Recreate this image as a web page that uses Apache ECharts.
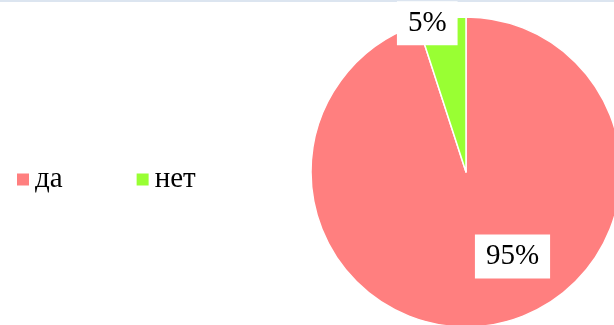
<!DOCTYPE html>
<html>
<head>
<meta charset="utf-8">
<script src="https://cdn.jsdelivr.net/npm/echarts@6/dist/echarts.min.js"></script>
<style>
html,body{margin:0;padding:0;background:#fff;}
#c{width:614px;height:325px;}
</style>
</head>
<body>
<div id="c"></div>
<script>
var categories = ['да', 'нет'];
var values = [95, 5];
var colors = ['#FF7F7F', '#99FF33'];

var chart = echarts.init(document.getElementById('c'));
var cx = 466, cy = 172, R = 155;
var serif = "'Liberation Serif', 'Times New Roman', serif";
// label anchor points as fractions of radius (dx, dy)
var labelAnchors = [[0.30, 0.545], [-0.25, -0.96]];

chart.setOption({
  animation: false,
  graphic: [{
    type: 'rect', z: -10, silent: true,
    shape: {x: 0, y: 0, width: 614, height: 2},
    style: {fill: '#dce5f0'}
  }],
  legend: {
    left: 12, top: 160,
    orient: 'horizontal',
    icon: 'rect',
    itemWidth: 12, itemHeight: 12,
    itemGap: 74,
    itemStyle: {borderWidth: 0},
    textStyle: {fontFamily: serif, fontSize: 29, color: '#000', padding: [0, 0, 0, 1]},
    data: categories
  },
  series: [{
    type: 'pie',
    center: [cx, cy],
    radius: R,
    startAngle: 90,
    clockwise: true,
    z: 5,
    itemStyle: {borderColor: '#fff', borderWidth: 1.5},
    label: {
      show: true,
      position: 'inside',
      formatter: function (p) { return p.value + '%'; },
      fontFamily: serif,
      fontSize: 29,
      lineHeight: 28,
      color: '#000',
      backgroundColor: '#fff',
      padding: [8, 11, 8, 11]
    },
    labelLine: {show: false},
    labelLayout: function (p) {
      var a = labelAnchors[p.dataIndex];
      return {x: cx + a[0] * R, y: cy + a[1] * R, align: 'center', verticalAlign: 'middle'};
    },
    data: categories.map(function (n, i) {
      return {name: n, value: values[i], itemStyle: {color: colors[i]}};
    })
  }]
});
</script>
</body>
</html>
